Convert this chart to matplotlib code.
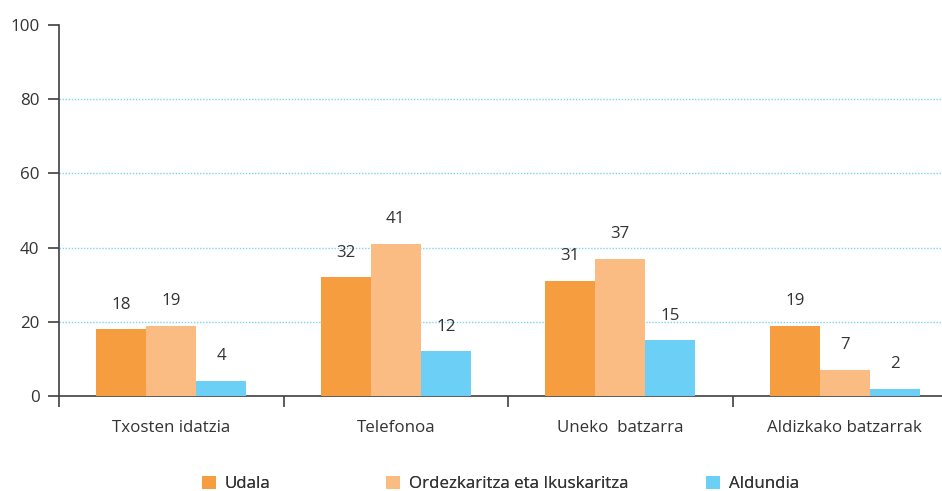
import numpy as np
import matplotlib
matplotlib.use("Agg")
import matplotlib.pyplot as plt

plt.rcParams["font.family"] = ["Open Sans", "DejaVu Sans"]

categories = ["Txosten idatzia", "Telefonoa", "Uneko  batzarra", "Aldizkako batzarrak"]
series = ["Udala", "Ordezkaritza eta Ikuskaritza", "Aldundia"]
udala = [18, 32, 31, 19]
ordezkaritza = [19, 41, 37, 7]
aldundia = [4, 12, 15, 2]
labels_udala = ["18", "32", "31", "19"]
labels_ordez = ["19", "41", "37", "7"]
labels_ald = ["4", "12", "15", "2"]

colors = ["#F69E3F", "#FBBC83", "#6CCFF6"]
txt = "#333333"
fs = 12.2

fig = plt.figure(figsize=(9.42, 4.91), dpi=100)
ax = fig.add_axes([59 / 942, 95 / 491, 898 / 942, 371 / 491])

x = np.arange(len(categories)) + 0.5
w = 0.223
data = [udala, ordezkaritza, aldundia]
labs = [labels_udala, labels_ordez, labels_ald]
handles = []
for i, (vals, lb) in enumerate(zip(data, labs)):
    bars = ax.bar(x + (i - 1) * w, vals, w, color=colors[i], label=series[i], zorder=3)
    ax.bar_label(bars, labels=lb, padding=12, fontsize=fs, color=txt)
    handles.append(bars)

ax.set_xlim(0, 4)
ax.set_ylim(0, 100)
ax.set_yticks([0, 20, 40, 60, 80, 100])
for yv in [20, 40, 60, 80]:
    ax.axhline(yv, color="#7DD4F2", lw=1, ls=(0, (1, 1.2)), zorder=1)

ax.set_xticks(x)
ax.set_xticklabels(categories)
ax.set_xticks(np.arange(0, 5), minor=True)
ax.tick_params(axis="x", which="major", length=0, pad=17, labelsize=fs, labelcolor=txt)
ax.tick_params(axis="x", which="minor", length=8, width=1.2, color="#404040")
ax.tick_params(axis="y", length=8, width=1.2, color="#404040", pad=6, labelsize=fs, labelcolor=txt)

for s in ["top", "right"]:
    ax.spines[s].set_visible(False)
for s in ["left", "bottom"]:
    ax.spines[s].set_color("#404040")
    ax.spines[s].set_linewidth(1.2)

# legend entries sit at uneven spacing in the original, so one legend per entry
leg_x = [202, 386, 706]
for h, name, lx in zip(handles, series, leg_x):
    leg = fig.legend([h], [name], loc="center left", bbox_to_anchor=(lx / 942, 1 - 484 / 491),
                     frameon=False, fontsize=fs, borderpad=0, borderaxespad=0,
                     handlelength=0.8, handleheight=0.8, handletextpad=0.55, labelcolor=txt)
    fig.add_artist(leg)

fig.savefig("out.png", dpi=100)
